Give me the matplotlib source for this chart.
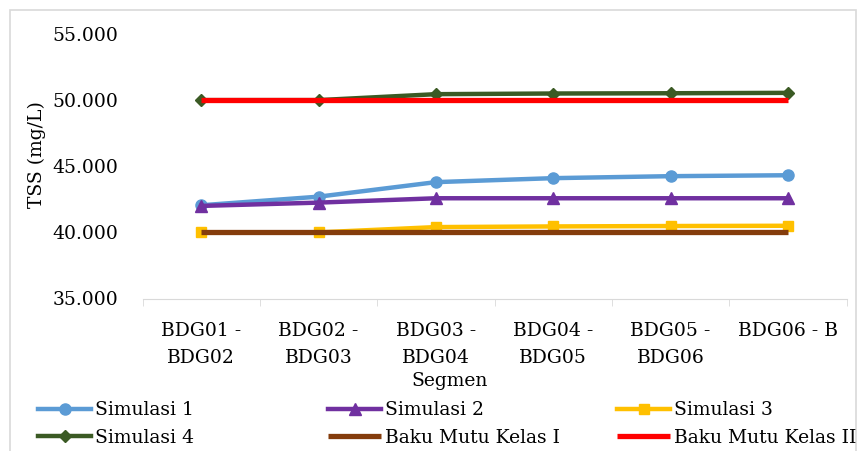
import matplotlib.pyplot as plt
from matplotlib.patches import Rectangle

segmen = ['BDG01 -\nBDG02', 'BDG02 -\nBDG03', 'BDG03 -\nBDG04',
          'BDG04 -\nBDG05', 'BDG05 -\nBDG06', 'BDG06 - B']
simulasi1 = [42.05, 42.7, 43.8, 44.1, 44.25, 44.32]
simulasi2 = [42.0, 42.25, 42.58, 42.58, 42.58, 42.58]
simulasi3 = [40.0, 40.0, 40.4, 40.45, 40.48, 40.5]
simulasi4 = [50.0, 50.0, 50.45, 50.5, 50.52, 50.55]
baku1 = [40.0] * 6
baku2 = [50.0] * 6

plt.rcParams['font.family'] = ['DejaVu Serif']
fs = 13.5

fig = plt.figure(figsize=(8.6, 4.51), dpi=100)
# bingkai abu-abu
fig.patches.append(Rectangle((10/860, -0.1), 846/860, 1.1 - 10/451, transform=fig.transFigure,
                             fill=False, edgecolor='#d9d9d9', linewidth=1.2))
ax = fig.add_axes([142.6/860, 1 - 298.5/451, (846.7 - 142.6)/860, (298.5 - 34)/451])

x = list(range(len(segmen)))
lw = 3.2
l1, = ax.plot(x, simulasi1, color='#5B9BD5', lw=lw, marker='o', ms=8, label='Simulasi 1')
l2, = ax.plot(x, simulasi2, color='#7030A0', lw=lw, marker='^', ms=8.5, label='Simulasi 2')
l3, = ax.plot(x, simulasi3, color='#FFC000', lw=lw, marker='s', ms=7.5, label='Simulasi 3')
l4, = ax.plot(x, simulasi4, color='#3B5A24', lw=lw, marker='D', ms=6.5, label='Simulasi 4')
l5, = ax.plot(x, baku1, color='#843C0C', lw=lw + 0.6, solid_capstyle='butt', label='Baku Mutu Kelas I')
l6, = ax.plot(x, baku2, color='#FF0000', lw=lw + 0.6, solid_capstyle='butt', label='Baku Mutu Kelas II')

ax.set_xlim(-0.5, 5.5)
ax.set_ylim(35, 55)
ax.set_yticks([35, 40, 45, 50, 55])
ax.set_yticklabels(['35.000', '40.000', '45.000', '50.000', '55.000'], fontsize=fs)
ax.set_xticks(x)
ax.set_xticklabels(segmen, fontsize=fs, linespacing=1.6)
ax.set_xticks([i - 0.5 for i in range(7)], minor=True)
ax.tick_params(axis='x', which='major', length=0, pad=17)
ax.tick_params(axis='x', which='minor', length=5, color='#d9d9d9')
ax.tick_params(axis='y', length=0, pad=17.5)
for s in ['top', 'right', 'left']:
    ax.spines[s].set_visible(False)
ax.spines['bottom'].set_color('#d9d9d9')

ax.set_xlabel('Segmen', fontsize=fs)
ax.xaxis.set_label_coords((450 - 142.6) / 704.1, (298.5 - 372) / 264.5)
ax.set_ylabel('TSS (mg/L)', fontsize=fs)
ax.yaxis.set_label_coords((46 - 142.6) / 704.1, (298.5 - 155) / 264.5)

kolom = [[l1, l4], [l2, l5], [l3, l6]]
kiri = [38, 328, 617]
for hs, xk in zip(kolom, kiri):
    leg = fig.legend(handles=hs, labels=[h.get_label() for h in hs], loc='center left',
                     bbox_to_anchor=(xk/860, 1 - 424/451), frameon=False, fontsize=fs,
                     handlelength=2.85, handletextpad=0.18, labelspacing=0.5,
                     borderpad=0, borderaxespad=0)

fig.savefig('out.png', dpi=100)
